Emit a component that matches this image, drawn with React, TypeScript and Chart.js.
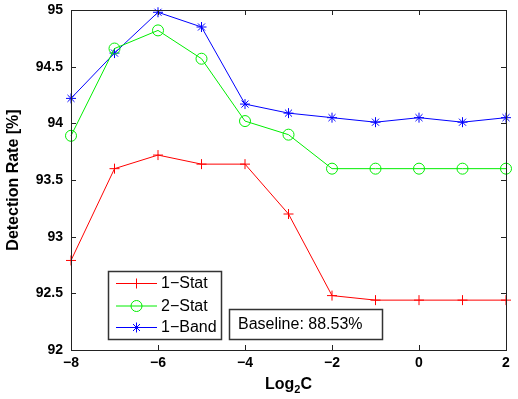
import React, { useEffect, useRef } from "react";
import { Chart, registerables } from "chart.js";

Chart.register(...registerables);

const xValues = [-8, -7, -6, -5, -4, -3, -2, -1, 0, 1, 2];
const stat1 = [92.79, 93.6, 93.72, 93.64, 93.64, 93.2, 92.48, 92.44, 92.44, 92.44, 92.44];
const stat2 = [93.89, 94.66, 94.82, 94.57, 94.02, 93.9, 93.6, 93.6, 93.6, 93.6, 93.6];
const band1 = [94.22, 94.62, 94.98, 94.85, 94.17, 94.09, 94.05, 94.01, 94.05, 94.01, 94.05];
const seriesNames = ["1\u2212Stat", "2\u2212Stat", "1\u2212Band"];
const seriesColors = ["#ff0000", "#00ee00", "#0000ff"];
const seriesMarkers = ["cross", "circle", "star"];
const xTicks = [-8, -6, -4, -2, 0, 2];
const yTicks = [92, 92.5, 93, 93.5, 94, 94.5, 95];
const baselineText = "Baseline: 88.53%";
const yTitle = "Detection Rate [%]";

function drawMarker(ctx: CanvasRenderingContext2D, style: string, x: number, y: number, r: number, color: string) {
  ctx.save();
  ctx.strokeStyle = color;
  ctx.lineWidth = 1;
  ctx.beginPath();
  if (style === "cross") {
    ctx.moveTo(x - r, y); ctx.lineTo(x + r, y);
    ctx.moveTo(x, y - r); ctx.lineTo(x, y + r);
  } else if (style === "circle") {
    ctx.arc(x, y, r, 0, Math.PI * 2);
  } else {
    ctx.moveTo(x - r, y); ctx.lineTo(x + r, y);
    ctx.moveTo(x, y - r); ctx.lineTo(x, y + r);
    const d = r * 0.7;
    ctx.moveTo(x - d, y - d); ctx.lineTo(x + d, y + d);
    ctx.moveTo(x - d, y + d); ctx.lineTo(x + d, y - d);
  }
  ctx.stroke();
  ctx.restore();
}

const decorPlugin = {
  id: "decor",
  afterDraw(chart: any) {
    const ctx: CanvasRenderingContext2D = chart.ctx;
    const a = chart.chartArea;
    const xs = chart.scales.x;
    const ys = chart.scales.y;
    ctx.save();
    // frame
    ctx.strokeStyle = "#222";
    ctx.lineWidth = 1;
    ctx.strokeRect(Math.round(a.left) + 0.5, Math.round(a.top) + 0.5, Math.round(a.right - a.left), Math.round(a.bottom - a.top));
    // inside ticks
    ctx.beginPath();
    const tl = 5;
    xTicks.forEach((v) => {
      const px = Math.round(xs.getPixelForValue(v)) + 0.5;
      ctx.moveTo(px, a.bottom); ctx.lineTo(px, a.bottom - tl);
      ctx.moveTo(px, a.top); ctx.lineTo(px, a.top + tl);
    });
    yTicks.forEach((v) => {
      const py = Math.round(ys.getPixelForValue(v)) + 0.5;
      ctx.moveTo(a.left, py); ctx.lineTo(a.left + tl, py);
      ctx.moveTo(a.right, py); ctx.lineTo(a.right - tl, py);
    });
    ctx.stroke();

    // y title
    ctx.fillStyle = "#000";
    ctx.font = "bold 16px 'Liberation Sans', Arial, sans-serif";
    ctx.save();
    ctx.translate(14, (a.top + a.bottom) / 2);
    ctx.rotate(-Math.PI / 2);
    ctx.textAlign = "center";
    ctx.textBaseline = "middle";
    ctx.fillText(yTitle, 0, 0);
    ctx.restore();

    // x title with subscript
    const cx = (a.left + a.right) / 2;
    ctx.textBaseline = "alphabetic";
    ctx.textAlign = "left";
    const big = "bold 16px 'Liberation Sans', Arial, sans-serif";
    const small = "bold 11px 'Liberation Sans', Arial, sans-serif";
    ctx.font = big;
    const wLog = ctx.measureText("Log").width;
    const wC = ctx.measureText("C").width;
    ctx.font = small;
    const w2 = ctx.measureText("2").width;
    const total = wLog + w2 + wC;
    let x0 = cx - total / 2;
    const by = 389;
    ctx.font = big;
    ctx.fillText("Log", x0, by);
    ctx.font = small;
    ctx.fillText("2", x0 + wLog, by + 4);
    ctx.font = big;
    ctx.fillText("C", x0 + wLog + w2, by);

    // legend box
    ctx.fillStyle = "#fff";
    ctx.fillRect(108, 271, 114, 69);
    ctx.strokeStyle = "#333";
    ctx.lineWidth = 1.5;
    ctx.strokeRect(108.5, 271.5, 113, 68);
    const rows = [283, 305.5, 327];
    ctx.font = "16px 'Liberation Sans', Arial, sans-serif";
    ctx.textBaseline = "middle";
    rows.forEach((ry, i) => {
      ctx.strokeStyle = seriesColors[i];
      ctx.lineWidth = 1;
      ctx.beginPath();
      ctx.moveTo(116, ry + 0.5);
      ctx.lineTo(157, ry + 0.5);
      ctx.stroke();
      drawMarker(ctx, seriesMarkers[i], 136.5, ry + 0.5, seriesMarkers[i] === "circle" ? 5.5 : 5, seriesColors[i]);
      ctx.fillStyle = "#000";
      ctx.fillText(seriesNames[i], 161, ry + 1);
    });

    // baseline box
    ctx.fillStyle = "#fff";
    ctx.fillRect(229, 309, 154, 31);
    ctx.strokeStyle = "#333";
    ctx.lineWidth = 1.5;
    ctx.strokeRect(229.5, 309.5, 153, 30);
    ctx.fillStyle = "#000";
    ctx.fillText(baselineText, 238, 325);
    ctx.restore();
  },
};

export default function App() {
  const ref = useRef<HTMLCanvasElement | null>(null);
  useEffect(() => {
    if (!ref.current) return;
    const mk = (vals: number[]) => xValues.map((x, i) => ({ x, y: vals[i] }));
    const all = [stat1, stat2, band1];
    const chart = new Chart(ref.current, {
      type: "line",
      data: {
        datasets: all.map((vals, i) => ({
          label: seriesNames[i],
          data: mk(vals),
          borderColor: seriesColors[i],
          backgroundColor: "rgba(0,0,0,0)",
          borderWidth: 1,
          pointStyle: seriesMarkers[i] as any,
          pointRadius: seriesMarkers[i] === "circle" ? 5.5 : 5,
          pointBorderColor: seriesColors[i],
          pointBackgroundColor: "rgba(0,0,0,0)",
          pointBorderWidth: 1,
          tension: 0,
          clip: false as any,
        })),
      },
      options: {
        animation: false,
        responsive: false,
        devicePixelRatio: 1,
        layout: { autoPadding: false, padding: { left: 0, top: 10, right: 12, bottom: 0 } },
        plugins: { legend: { display: false }, tooltip: { enabled: false } },
        scales: {
          x: {
            type: "linear",
            min: -8,
            max: 2,
            afterBuildTicks: (s: any) => { s.ticks = xTicks.map((v) => ({ value: v })); },
            afterFit: (s: any) => { s.height = 49; s.paddingLeft = 0; s.paddingRight = 0; },
            grid: { display: false, drawTicks: false },
            border: { display: false },
            ticks: {
              color: "#000",
              font: { family: "'Liberation Sans', Arial, sans-serif", size: 14, weight: "bold" },
              padding: 5,
              maxRotation: 0,
              callback: (v: any) => String(v).replace("-", "\u2212"),
            },
          },
          y: {
            type: "linear",
            min: 92,
            max: 95,
            afterBuildTicks: (s: any) => { s.ticks = yTicks.map((v) => ({ value: v })); },
            afterFit: (s: any) => { s.width = 71; s.paddingTop = 0; s.paddingBottom = 0; },
            grid: { display: false, drawTicks: false },
            border: { display: false },
            ticks: {
              color: "#000",
              font: { family: "'Liberation Sans', Arial, sans-serif", size: 14, weight: "bold" },
              padding: 8,
              callback: (v: any) => String(v),
            },
          },
        },
      },
      plugins: [decorPlugin],
    });
    return () => chart.destroy();
  }, []);
  return (
    <div style={{ position: "fixed", left: 0, top: 0, width: 518, height: 399, background: "#fff" }}>
      <canvas ref={ref} width={518} height={399} style={{ display: "block" }} />
    </div>
  );
}
